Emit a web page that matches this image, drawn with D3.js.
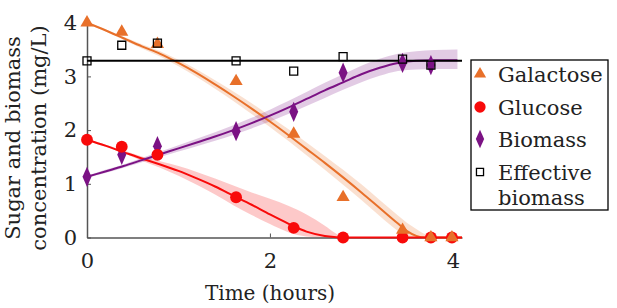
<!DOCTYPE html>
<html>
<head>
<meta charset="utf-8">
<script src="https://cdn.jsdelivr.net/npm/d3@7"></script>
<style>
  body { margin: 0; background: #fff; }
</style>
</head>
<body>
<div class="chart"></div>
<script>
// measured points
var sampleTime = [0, 0.38, 0.77, 1.63, 2.26, 2.80, 3.45, 3.76, 3.99];
var galactose = [4.0, 3.83, 3.6, 2.91, 1.93, 0.75, 0.14, 0, 0];
var glucose = [1.82, 1.69, 1.54, 0.75, 0.18, 0, 0, 0, 0];
var biomass = [1.13, 1.54, 1.70, 1.98, 2.34, 3.07, 3.25, 3.21];
var effectiveBiomass = [3.29, 3.58, 3.62, 3.29, 3.10, 3.37, 3.32, 3.21];
var effectiveLevel = 3.29;

// model fits with confidence bands
var galT  = [0, 0.2, 0.4, 0.6, 0.8, 1.0, 1.2, 1.4, 1.6, 1.8, 2.0, 2.2, 2.4, 2.6, 2.8, 3.0, 3.2, 3.4, 3.5, 3.6, 3.7, 3.8, 4.0, 4.1];
var galFit = [4.00, 3.86, 3.71, 3.56, 3.42, 3.25, 3.06, 2.85, 2.63, 2.40, 2.16, 1.91, 1.65, 1.39, 1.12, 0.84, 0.55, 0.26, 0.12, 0.03, 0, 0, 0, 0];
var galHi  = [4.02, 3.88, 3.74, 3.60, 3.47, 3.31, 3.13, 2.93, 2.72, 2.50, 2.26, 2.02, 1.77, 1.52, 1.26, 0.99, 0.70, 0.41, 0.27, 0.16, 0.06, 0.01, 0, 0];
var galLo  = [3.98, 3.84, 3.68, 3.52, 3.37, 3.19, 2.99, 2.77, 2.54, 2.30, 2.06, 1.80, 1.53, 1.26, 0.98, 0.70, 0.40, 0.12, 0, 0, 0, 0, 0, 0];

var gluT  = [0, 0.2, 0.4, 0.6, 0.8, 1.0, 1.2, 1.4, 1.6, 1.8, 2.0, 2.2, 2.4, 2.6, 2.7, 2.8, 3.0, 3.5, 4.0, 4.1];
var gluFit = [1.82, 1.71, 1.59, 1.47, 1.36, 1.24, 1.10, 0.95, 0.78, 0.61, 0.43, 0.26, 0.11, 0.03, 0.01, 0, 0, 0, 0, 0];
var gluHi  = [1.84, 1.73, 1.62, 1.51, 1.42, 1.33, 1.22, 1.10, 0.97, 0.84, 0.72, 0.59, 0.43, 0.22, 0.10, 0.02, 0, 0, 0, 0];
var gluLo  = [1.80, 1.69, 1.57, 1.43, 1.30, 1.15, 0.98, 0.80, 0.60, 0.42, 0.25, 0.10, 0.02, 0, 0, 0, 0, 0, 0, 0];

var bioT  = [0, 0.2, 0.4, 0.6, 0.8, 1.0, 1.2, 1.4, 1.6, 1.8, 2.0, 2.2, 2.4, 2.6, 2.8, 3.0, 3.2, 3.4, 3.6, 3.8, 4.05];
var bioFit = [1.13, 1.23, 1.33, 1.44, 1.55, 1.66, 1.77, 1.88, 2.00, 2.13, 2.27, 2.42, 2.58, 2.74, 2.89, 3.04, 3.16, 3.25, 3.29, 3.30, 3.30];
var bioHi  = [1.15, 1.26, 1.36, 1.48, 1.60, 1.72, 1.84, 1.96, 2.09, 2.23, 2.38, 2.54, 2.71, 2.88, 3.04, 3.20, 3.33, 3.42, 3.47, 3.49, 3.50];
var bioLo  = [1.11, 1.20, 1.30, 1.40, 1.50, 1.60, 1.70, 1.80, 1.91, 2.03, 2.16, 2.30, 2.45, 2.60, 2.75, 2.89, 3.01, 3.10, 3.13, 3.14, 3.14];

var xTicks = [0, 2, 4];
var yTicks = [0, 1, 2, 3, 4];

var legendLabels = [["Galactose"], ["Glucose"], ["Biomass"], ["Effective", "biomass"]];

var orange = "#e8702a", red = "#f80a0a", purple = "#7b1284";
var serif = "'DejaVu Serif', serif";

var svg = d3.select(".chart").append("svg")
    .attr("width", 617)
    .attr("height", 308)
    .style("font-family", serif);

var x = d3.scaleLinear().domain([0, 4.1]).range([87, 462]);
var y = d3.scaleLinear().domain([0, 4]).range([237.5, 22.7]);

function rows(t, a, b, c) {
  return t.map(function(d, i) { return { t: d, v: a[i], hi: b ? b[i] : null, lo: c ? c[i] : null }; });
}

var area = d3.area()
    .x(function(d) { return x(d.t); })
    .y0(function(d) { return y(d.lo); })
    .y1(function(d) { return y(d.hi); })
    .curve(d3.curveMonotoneX);
var line = d3.line()
    .x(function(d) { return x(d.t); })
    .y(function(d) { return y(d.v); })
    .curve(d3.curveMonotoneX);

var fits = [
  { data: rows(galT, galFit, galHi, galLo), color: orange },
  { data: rows(gluT, gluFit, gluHi, gluLo), color: red },
  { data: rows(bioT, bioFit, bioHi, bioLo), color: purple }
];

// bands
fits.forEach(function(f) {
  svg.append("path").datum(f.data)
    .attr("d", area)
    .attr("fill", f.color)
    .attr("fill-opacity", 0.22);
});

// axes
var xAxis = svg.append("g")
    .attr("transform", "translate(0," + y(0) + ")")
    .call(d3.axisBottom(x).tickValues(xTicks).tickSizeInner(-4).tickSizeOuter(0).tickPadding(16).tickFormat(d3.format("d")));
var yAxis = svg.append("g")
    .attr("transform", "translate(" + x(0) + ",0)")
    .call(d3.axisLeft(y).tickValues(yTicks).tickSizeInner(-4).tickSizeOuter(0).tickPadding(10).tickFormat(d3.format("d")));
[xAxis, yAxis].forEach(function(a) {
  a.attr("font-family", null).attr("font-size", null);
  a.select(".domain").attr("stroke", "#555").attr("stroke-width", 1.5);
  a.selectAll(".tick line").attr("stroke", "#555").attr("stroke-width", 1);
  a.selectAll("text").attr("fill", "#222")
    .style("font-size", "21px")
    .style("font-family", serif);
});

// fit lines
fits.forEach(function(f) {
  svg.append("path").datum(f.data)
    .attr("d", line)
    .attr("fill", "none")
    .attr("stroke", f.color)
    .attr("stroke-width", 2);
});

svg.append("line")
    .attr("x1", x(0)).attr("x2", x(4.1))
    .attr("y1", y(effectiveLevel)).attr("y2", y(effectiveLevel))
    .attr("stroke", "#000")
    .attr("stroke-width", 2);

var sym = {
  tri: d3.symbol().type(d3.symbolTriangle).size(75),
  circ: d3.symbol().type(d3.symbolCircle).size(110),
  dia: d3.symbol().type(d3.symbolDiamond).size(70),
  sq: d3.symbol().type(d3.symbolSquare).size(64)
};

function markers(vals, shape, fill, stroke, sy) {
  svg.append("g").selectAll("path")
    .data(vals.map(function(v, i) { return { t: sampleTime[i], v: v }; }))
    .enter().append("path")
      .attr("d", sym[shape])
      .attr("transform", function(d) { return "translate(" + x(d.t) + "," + y(d.v) + ")" + (sy ? " scale(1," + sy + ")" : ""); })
      .attr("fill", fill)
      .attr("stroke", stroke)
      .attr("stroke-width", stroke == "none" ? 0 : 1.3);
}

markers(biomass, "dia", purple, "none", 1.3);
markers(glucose, "circ", red, "none");
markers(galactose, "tri", orange, "none");
markers(effectiveBiomass, "sq", "none", "#000");

// axis titles
function label(sel, size) {
  return sel.style("font-family", serif).style("font-size", size + "px").attr("fill", "#222");
}

label(svg.append("text"), 20)
    .attr("x", 270).attr("y", 300)
    .attr("text-anchor", "middle")
    .text("Time (hours)");

label(svg.append("text"), 21)
    .attr("transform", "translate(20,138) rotate(-90)")
    .attr("text-anchor", "middle")
    .text("Sugar and biomass");
label(svg.append("text"), 21)
    .attr("transform", "translate(46,138) rotate(-90)")
    .attr("text-anchor", "middle")
    .text("concentration (mg/L)");

// legend
var legend = svg.append("g");
legend.append("rect")
    .attr("x", 471).attr("y", 60)
    .attr("width", 137).attr("height", 150)
    .attr("fill", "#fff")
    .attr("stroke", "#000")
    .attr("stroke-width", 1.3);

var legendMarks = [
  { type: d3.symbolTriangle, size: 65, fill: orange, stroke: "none", sy: null },
  { type: d3.symbolCircle, size: 100, fill: red, stroke: "none", sy: null },
  { type: d3.symbolDiamond, size: 60, fill: purple, stroke: "none", sy: 1.3 },
  { type: d3.symbolSquare, size: 50, fill: "none", stroke: "#000", sy: null }
];
var legendY = [74, 107, 139, 172];

legendLabels.forEach(function(lines, i) {
  var m = legendMarks[i];
  legend.append("path")
      .attr("d", d3.symbol().type(m.type).size(m.size))
      .attr("transform", "translate(480," + legendY[i] + ")" + (m.sy ? " scale(1," + m.sy + ")" : ""))
      .attr("fill", m.fill)
      .attr("stroke", m.stroke)
      .attr("stroke-width", m.stroke == "none" ? 0 : 1.3);
  var t = label(legend.append("text"), 21)
      .attr("y", legendY[i] + 8);
  lines.forEach(function(s, j) {
    t.append("tspan")
        .attr("x", 498)
        .attr("dy", j == 0 ? 0 : 25)
        .text(s);
  });
});
</script>
</body>
</html>
